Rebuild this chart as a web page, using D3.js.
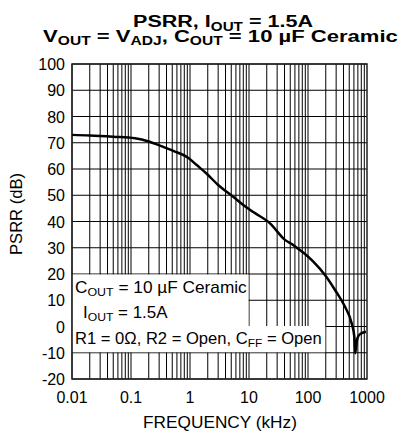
<!DOCTYPE html>
<html>
<head>
<meta charset="utf-8">
<script src="https://cdn.jsdelivr.net/npm/d3@7"></script>
<style>
  body { margin: 0; background: #fff; }
  text { font-family: "Liberation Sans", Arial, sans-serif; fill: #000; }
</style>
</head>
<body>
<div id="chart"></div>
<script>
// PSRR vs frequency
const freqKHz = [0.01, 0.02, 0.05, 0.117, 0.2, 0.31, 0.52, 0.93, 1.3, 1.9, 3.0, 5.4, 8, 12, 22.7, 40.7, 55, 73, 85, 123, 194, 287, 424, 550, 610, 630, 686, 760, 960];
const psrrDb  = [73, 72.8, 72.3, 71.7, 70.5, 68.9, 66.9, 64.3, 61.5, 58.3, 53.9, 49.4, 46.3, 43.5, 39.3, 33.0, 31.2, 29.1, 28.0, 24.7, 19.6, 13.9, 7.5, 1.2, -3.9, -10.2, -4.5, -2.9, -2.0];

const xTicks = [0.01, 0.1, 1, 10, 100, 1000];
const xTickLabels = ['0.01', '0.1', '1', '10', '100', '1000'];
const yTicks = [-20, -10, 0, 10, 20, 30, 40, 50, 60, 70, 80, 90, 100];

const W = 403, H = 432;
const m = { left: 72, right: 367, top: 64, bottom: 379 };

const svg = d3.select('#chart').append('svg')
    .attr('width', W)
    .attr('height', H);

const x = d3.scaleLog().domain([0.01, 1000]).range([m.left, m.right]);
const y = d3.scaleLinear().domain([-20, 100]).range([m.bottom, m.top]);

// stretch a text horizontally so it spans the width seen in the reference
function fitWidth(t, target, ax) {
    const w = t.node().getBBox().width;
    const sx = target / w;
    t.attr('transform', `translate(${ax},0) scale(${sx},1) translate(${-ax},0)`);
}

// minor + major vertical grid (1..9 per decade)
const vGrid = [];
for (let d = 0.01; d < 999; d *= 10) {
    for (let k = 1; k <= 9; k++) vGrid.push(d * k);
}

const grid = svg.append('g');
grid.selectAll('.vg')
    .data(vGrid)
    .enter()
    .append('line')
    .attr('x1', d => x(d)).attr('x2', d => x(d))
    .attr('y1', m.top).attr('y2', m.bottom)
    .attr('stroke', '#000')
    .attr('stroke-width', 1);

grid.selectAll('.hg')
    .data(yTicks)
    .enter()
    .append('line')
    .attr('x1', m.left).attr('x2', m.right)
    .attr('y1', d => y(d)).attr('y2', d => y(d))
    .attr('stroke', '#000')
    .attr('stroke-width', 1);

// white legend area (covers the grid between gridlines)
const bx0 = x(0.01) + 0.5, bx1 = x(10) - 0.5, bx2 = x(200) - 0.5;
const by0 = y(20) + 0.5, by1 = y(0) + 0.5, by2 = y(-10) - 0.5;
svg.append('path')
    .attr('d', `M${bx0},${by0}H${bx1}V${by1 - 1}H${bx2}V${by2}H${bx0}Z`)
    .attr('fill', '#fff');

// frame
svg.append('rect')
    .attr('x', m.left).attr('y', m.top)
    .attr('width', m.right - m.left).attr('height', m.bottom - m.top)
    .attr('fill', 'none')
    .attr('stroke', '#222')
    .attr('stroke-width', 1.5);

// y tick labels
svg.selectAll('.yl')
    .data(yTicks)
    .enter()
    .append('text')
    .attr('x', m.left - 7)
    .attr('y', d => y(d) + 6)
    .attr('text-anchor', 'end')
    .style('font-size', '16px')
    .text(d => d);

// x tick labels
svg.selectAll('.xl')
    .data(xTicks)
    .enter()
    .append('text')
    .attr('x', d => x(d))
    .attr('y', 403)
    .attr('text-anchor', 'middle')
    .style('font-size', '16px')
    .text((d, i) => xTickLabels[i]);

// axis titles
const xTitle = svg.append('text')
    .attr('x', 220)
    .attr('y', 428)
    .attr('text-anchor', 'middle')
    .style('font-size', '16px')
    .text('FREQUENCY (kHz)');
fitWidth(xTitle, 154, 220);

const yTitle = svg.append('text')
    .attr('x', 0).attr('y', 0)
    .attr('text-anchor', 'middle')
    .style('font-size', '16px')
    .text('PSRR (dB)');
{
    const w = yTitle.node().getBBox().width;
    yTitle.attr('transform', `translate(22, 214) rotate(-90) scale(${82 / w},1)`);
}

// text with subscripts: parts = [[str, isSub], ...]
function richText(parent, px, py, parts, size, subSize, anchor, bold) {
    const t = parent.append('text')
        .attr('x', px).attr('y', py)
        .attr('text-anchor', anchor)
        .style('font-size', size + 'px')
        .style('font-weight', bold ? 'bold' : 'normal');
    let down = false;
    parts.forEach(([s, sub]) => {
        const sp = t.append('tspan').text(s);
        if (sub) {
            sp.style('font-size', subSize + 'px');
            if (!down) { sp.attr('dy', 3.5); down = true; }
        } else {
            sp.style('font-size', size + 'px');
            if (down) { sp.attr('dy', -3.5); down = false; }
        }
    });
    return t;
}

const t1 = richText(svg, 223, 27.5, [['PSRR, I', false], ['OUT', true], [' = 1.5A', false]], 17, 12, 'middle', true);
fitWidth(t1, 180, 223);
const t2 = richText(svg, 220.5, 42, [['V', false], ['OUT', true], [' = V', false], ['ADJ', true], [', C', false], ['OUT', true], [' = 10 µF Ceramic', false]], 17, 12, 'middle', true);
fitWidth(t2, 355, 220.5);

// legend text
const l1 = richText(svg, 75, 293, [['C', false], ['OUT', true], [' = 10 µF Ceramic', false]], 16, 11.5, 'start', false);
fitWidth(l1, 172, 75);
const l2 = richText(svg, 83, 318, [['I', false], ['OUT', true], [' = 1.5A', false]], 16, 11.5, 'start', false);
fitWidth(l2, 85, 83);
const l3 = richText(svg, 75, 344, [['R1 = 0Ω, R2 = Open, C', false], ['FF', true], [' = Open', false]], 16, 11.5, 'start', false);
fitWidth(l3, 247, 75);

// curve
const line = d3.line()
    .x(d => x(d[0]))
    .y(d => y(d[1]))
    .curve(d3.curveMonotoneX);

svg.append('path')
    .datum(freqKHz.map((f, i) => [f, psrrDb[i]]))
    .attr('d', line)
    .attr('fill', 'none')
    .attr('stroke', '#000')
    .attr('stroke-width', 2.5)
    .attr('stroke-linejoin', 'round');
</script>
</body>
</html>
